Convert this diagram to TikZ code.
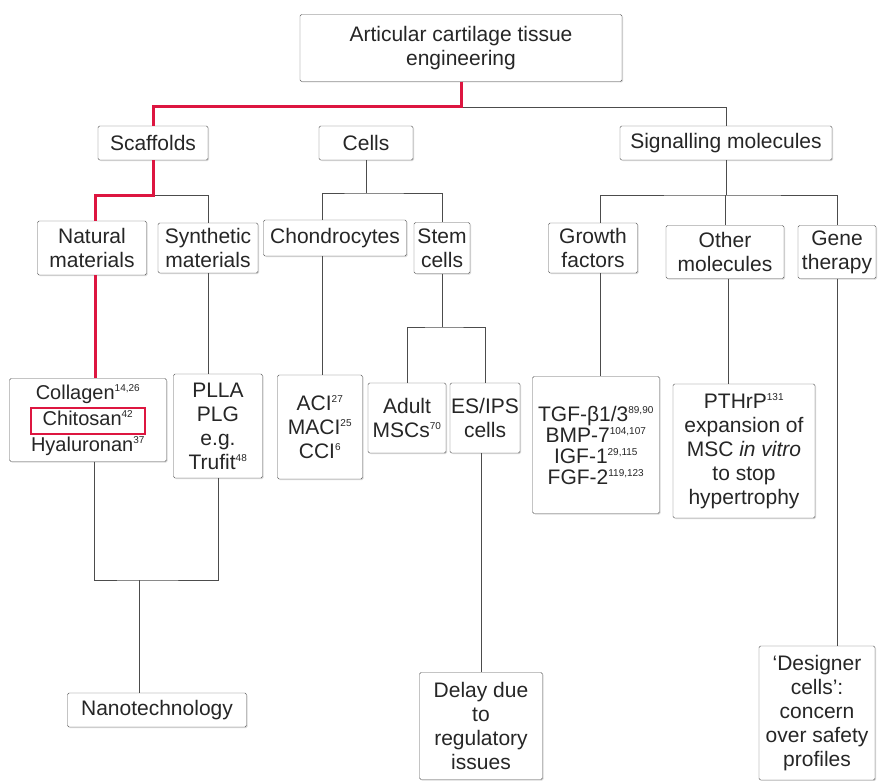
\documentclass[tikz,border=0pt]{standalone}
\usepackage{fontspec}
\setmainfont{Liberation Sans}
\usetikzlibrary{shadows}
\definecolor{hotred}{RGB}{221,22,64}
\newcommand\refsup[1]{\textsuperscript{\fontsize{10}{10}\selectfont #1}}

\begin{document}
\begin{tikzpicture}[x=1pt,y=-1pt]
\tikzstyle{every node}=[font=\fontsize{21}{24}\selectfont,text=black!85]
\tikzstyle{box}=[draw=black!65,rounded corners=1.5pt,fill=white,align=center,inner sep=1pt,
                 drop shadow={shadow xshift=1pt,shadow yshift=-1pt,opacity=.3}]
\tikzstyle{link}=[draw=black!70,line width=.8pt]
\tikzstyle{hot}=[draw=hotred,line width=3pt]
\useasboundingbox (0,0) rectangle (878,781);

% top and first level
\node[box,minimum width=322,minimum height=67] (ace) at (461,48) {Articular cartilage tissue\\engineering};
\node[box,minimum width=110,minimum height=34] (scaf) at (153,143) {Scaffolds};
\node[box,minimum width=94,minimum height=34] (cells) at (366,143) {Cells};
\node[box,minimum width=212,minimum height=34] (sig) at (726,143) {Signalling molecules};

% second level
\node[box,minimum width=109,minimum height=54] (nat) at (92,248) {Natural\\materials};
\node[box,minimum width=100,minimum height=50] (syn) at (208,248) {Synthetic\\materials};
\node[box,minimum width=143,minimum height=36] (chon) at (335,238) {Chondrocytes};
\node[box,minimum width=56,minimum height=51] (stem) at (442,248) {Stem\\cells};
\node[box,minimum width=89,minimum height=50] (grow) at (593,248) {Growth\\factors};
\node[box,minimum width=118,minimum height=53] (oth) at (725,252) {Other\\molecules};
\node[box,minimum width=78,minimum height=53] (gene) at (837,252) {Gene\\therapy};

% third level
\node[box,minimum width=157,minimum height=83,font=\fontsize{20}{26}\selectfont] (natl) at (88,420)
  {Collagen\refsup{14,26}\\Chitosan\refsup{42}\\Hyaluronan\refsup{37}};
\node[draw=hotred,line width=2.2pt,minimum width=114,minimum height=26,inner sep=0pt] (chit) at ([yshift=-1]natl.center) {};
\node[box,minimum width=89,minimum height=104] (synl) at (218,426) {PLLA\\PLG\\e.g.\\Trufit\refsup{48}};
\node[box,minimum width=85,minimum height=104] (aci) at (320,427) {ACI\refsup{27}\\MACI\refsup{25}\\CCI\refsup{6}};
\node[box,minimum width=78,minimum height=70] (adult) at (407,418) {Adult\\MSCs\refsup{70}};
\node[box,minimum width=70,minimum height=70] (esips) at (485,418) {ES/IPS\\cells};
\node[box,minimum width=127,minimum height=137,font=\fontsize{21}{21}\selectfont] (tgf) at (596,445)
  {TGF-β1/3\refsup{89,90}\\BMP-7\refsup{104,107}\\IGF-1\refsup{29,115}\\FGF-2\refsup{119,123}};
\node[box,minimum width=142,minimum height=134] (pth) at (744,451)
  {PTHrP\refsup{131}\\expansion of\\MSC \textit{in vitro}\\to stop\\hypertrophy};

% bottom row
\node[box,minimum width=179,minimum height=34] (nano) at (157,710) {Nanotechnology};
\node[box,minimum width=123,minimum height=107] (delay) at (481,726) {Delay due\\to\\regulatory\\issues};
\node[box,minimum width=116,minimum height=134] (des) at (817,713) {`Designer\\cells':\\concern\\over safety\\profiles};

% connectors, grey first so the red path lies on top
\coordinate (b1) at (461,107);
\coordinate (b2) at (153,195);
\coordinate (b3) at (366,193);
\coordinate (b4) at (726,195);
\coordinate (b5) at (442,327);
\coordinate (b6) at (139,580);
\draw[link] (b1) -| (sig.north);
\draw[link] (b2) -| (syn.north);
\draw[link] (cells.south) -- (b3);
\draw[link] ([xshift=-13]chon.north) |- (b3) -| (stem.north);
\draw[link] (sig.south) -- (b4);
\draw[link] ([xshift=7]grow.north) |- (b4) -| (gene.north);
\draw[link] (b4 -| oth.north) -- (oth.north);
\draw[link] (syn.south) -- (syn.south |- synl.north);
\draw[link] ([xshift=-13]chon.south) -- ([xshift=-13]chon.south |- aci.north);
\draw[link] (stem.south) -- (b5);
\draw[link] (adult.north) |- (b5) -| (esips.north);
\draw[link] ([xshift=7]grow.south) -- ([xshift=7]grow.south |- tgf.north);
\draw[link] ([xshift=3]oth.south) -- ([xshift=3]oth.south |- pth.north);
\draw[link] (gene.south) -- (gene.south |- des.north);
\draw[link] ([xshift=-4]esips.south) -- ([xshift=-4]esips.south |- delay.north);
\draw[link] ([xshift=6]natl.south) |- (b6) -| (synl.south);
\draw[link] (b6) -- (b6 |- nano.north);
\draw[hot] (ace.south) -- (b1) -| (scaf.north);
\draw[hot] (scaf.south) -- (b2) -| ([xshift=3]nat.north);
\draw[hot] ([xshift=3]nat.south) -- ([xshift=3]nat.south |- natl.north);
\end{tikzpicture}
\end{document}
